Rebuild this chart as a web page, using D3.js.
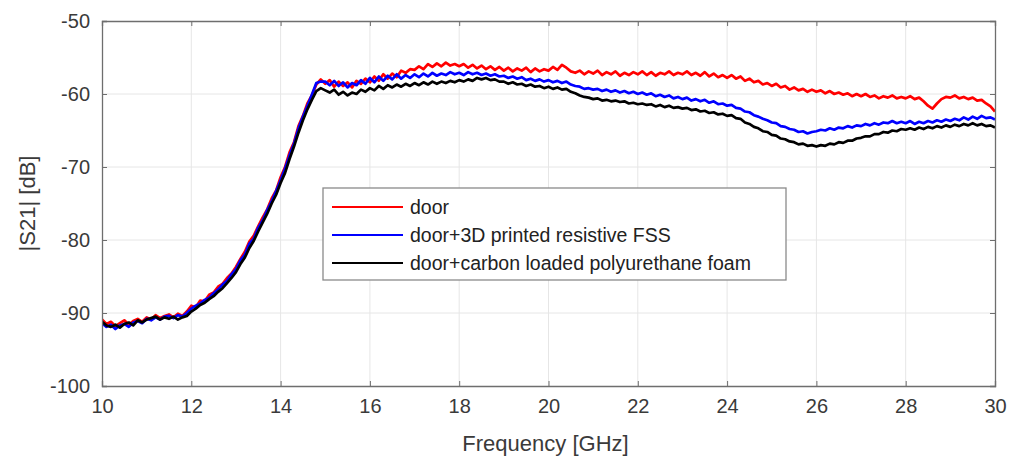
<!DOCTYPE html>
<html>
<head>
<meta charset="utf-8">
<script src="https://cdn.jsdelivr.net/npm/d3@7"></script>
<style>
  html, body { margin: 0; padding: 0; background: #fff; }
  svg { display: block; font-family: "Liberation Sans", Arial, sans-serif; }
</style>
</head>
<body>
<svg id="chart" width="1012" height="458"></svg>
<script>
// ---- data ----
const freqStart = 10, freqEnd = 30, freqStep = 0.1;   // GHz sampling of the measured traces
const xTicks = [10, 12, 14, 16, 18, 20, 22, 24, 26, 28, 30];
const yTicks = [-100, -90, -80, -70, -60, -50];
const seriesNames = ["door", "door+3D printed resistive FSS", "door+carbon loaded polyurethane foam"];
const seriesColors = ["#ff0000", "#0000ff", "#000000"];

const door = [
  -90.9, -91.5, -91.2, -91.8, -91.4, -91.0, -91.6, -91.1, -90.8, -91.2,
  -90.6, -90.9, -90.3, -90.7, -90.4, -90.2, -90.6, -90.1, -90.4, -89.8,
  -89.0, -89.2, -88.3, -88.4, -87.5, -87.2, -86.4, -86.0, -85.2, -84.6,
  -83.7, -82.6, -81.6, -80.2, -79.4, -78.1, -76.9, -75.8, -74.3, -73.2,
  -71.4, -70.0, -68.0, -66.6, -64.4, -63.0, -61.3, -60.2, -58.7, -58.0,
  -58.6, -58.1, -59.0, -58.3, -58.9, -58.4, -59.1, -58.2, -58.6, -57.9,
  -58.4, -57.6, -58.2, -57.3, -57.9, -57.2, -57.7, -56.8, -57.1, -56.6,
  -56.7, -56.2, -56.6, -55.9, -56.3, -55.8, -56.2, -55.7, -56.1, -55.9,
  -56.2, -55.9, -56.4, -56.0, -56.5, -56.1, -56.6, -56.2, -56.7, -56.3,
  -56.8, -56.4, -56.9, -56.5, -56.8, -56.4, -57.0, -56.5, -56.9, -56.6,
  -56.8, -56.3, -56.7, -56.0, -56.4, -56.9, -57.1, -56.8, -57.3, -56.9,
  -57.2, -56.8, -57.4, -57.0, -57.3, -56.9, -57.5, -57.1, -57.4, -57.0,
  -57.3, -56.9, -57.4, -57.0, -57.5, -57.1, -57.3, -56.9, -57.4, -57.1,
  -57.3, -56.9, -57.4, -57.1, -57.5, -57.0, -57.6, -57.2, -57.7, -57.4,
  -57.8, -57.4, -57.9, -57.6, -58.2, -57.9, -58.4, -58.2, -58.7, -58.5,
  -58.9, -58.6, -59.1, -58.9, -59.4, -59.1, -59.5, -59.3, -59.7, -59.4,
  -59.7, -59.5, -59.9, -59.6, -60.0, -59.8, -60.1, -59.9, -60.3, -60.0,
  -60.3, -60.0, -60.4, -60.2, -60.6, -60.3, -60.5, -60.2, -60.6, -60.4,
  -60.6, -60.3, -60.7, -60.5, -61.0, -61.6, -62.0, -61.3, -60.7, -60.4,
  -60.5, -60.2, -60.6, -60.4, -60.7, -60.5, -60.9, -60.8, -61.3, -61.7,
  -62.4
];

const doorFSS = [
  -91.4, -91.9, -91.6, -92.2, -91.7, -91.5, -91.9, -91.3, -91.1, -91.4,
  -90.8, -91.0, -90.6, -90.9, -90.5, -90.4, -90.7, -90.3, -90.5, -90.0,
  -89.4, -89.0, -88.7, -88.2, -87.9, -87.3, -86.8, -86.1, -85.6, -84.7,
  -84.0, -82.8, -82.0, -80.5, -79.8, -78.3, -77.3, -75.9, -74.7, -73.3,
  -71.8, -70.2, -68.4, -66.8, -64.7, -63.1, -61.6, -60.1, -58.5, -58.3,
  -58.3, -58.8, -58.2, -58.9, -58.4, -59.1, -58.5, -58.8, -58.1, -58.6,
  -57.8, -58.4, -57.6, -58.2, -57.5, -58.0, -57.3, -57.9, -57.4, -57.8,
  -57.3, -57.7, -57.2, -57.6, -57.1, -57.5, -57.2, -57.4, -57.0, -57.3,
  -57.1, -57.4, -57.0, -57.3, -57.1, -57.4, -57.2, -57.5, -57.3, -57.6,
  -57.5, -57.8, -57.6, -57.9, -57.7, -58.1, -57.9, -58.2, -58.0, -58.3,
  -58.1, -58.4, -58.2, -58.5, -58.3, -58.7, -58.9, -59.0, -59.3, -59.2,
  -59.4, -59.3, -59.6, -59.4, -59.7, -59.5, -59.8, -59.6, -59.9, -59.7,
  -60.0, -59.8, -60.1, -59.9, -60.3, -60.1, -60.4, -60.2, -60.6, -60.4,
  -60.7, -60.5, -60.9, -60.7, -61.0, -60.8, -61.2, -61.0, -61.4, -61.3,
  -61.6, -61.5, -61.9, -62.0, -62.4, -62.5, -62.9, -63.1, -63.4, -63.6,
  -63.9, -64.0, -64.4, -64.5, -64.8, -64.9, -65.2, -65.1, -65.4, -65.2,
  -65.1, -64.9, -65.0, -64.7, -64.9, -64.6, -64.7, -64.4, -64.6, -64.3,
  -64.4, -64.1, -64.3, -64.0, -64.2, -63.9, -64.0, -63.7, -64.0, -63.8,
  -64.0, -63.7, -64.1, -63.8, -64.0, -63.7, -63.9, -63.6, -63.8, -63.5,
  -63.7, -63.4, -63.6, -63.2, -63.5, -63.1, -63.4, -63.0, -63.3, -63.2,
  -63.5
];

const doorFoam = [
  -91.2, -91.7, -91.9, -91.6, -92.0, -91.5, -91.3, -91.7, -91.0, -91.3,
  -90.9, -90.7, -90.5, -90.9, -90.6, -90.8, -90.5, -90.9, -90.6, -90.4,
  -89.8, -89.4, -88.9, -88.6, -88.1, -87.7, -87.1, -86.6, -85.9, -85.2,
  -84.4, -83.3, -82.4, -81.1, -80.1, -78.8, -77.6, -76.4, -75.0, -73.8,
  -72.2, -70.8, -68.9, -67.2, -65.3, -63.6, -62.1, -60.8, -59.6, -59.2,
  -59.5, -59.8, -59.4, -60.1, -59.7, -60.2, -59.8, -60.0, -59.4, -59.7,
  -59.2, -59.5, -58.9, -59.3, -58.8, -59.1, -58.7, -59.0, -58.6, -58.9,
  -58.5, -58.8, -58.4, -58.7, -58.3, -58.6, -58.3, -58.5, -58.2, -58.4,
  -58.1, -58.3, -58.0, -58.2, -57.8, -58.0, -57.8, -58.1, -58.0, -58.3,
  -58.3, -58.6, -58.4, -58.7, -58.6, -58.9, -58.7, -59.0, -58.9, -59.2,
  -59.0, -59.3, -59.1, -59.4, -59.3, -59.7, -59.9, -60.2, -60.4, -60.5,
  -60.7, -60.6, -60.9, -60.8, -61.0, -60.9, -61.1, -61.0, -61.3, -61.2,
  -61.4, -61.3, -61.5, -61.4, -61.7, -61.5, -61.8, -61.6, -61.9, -61.8,
  -62.0, -61.9, -62.2, -62.1, -62.4, -62.3, -62.6, -62.5, -62.8, -62.7,
  -63.0, -62.9, -63.3, -63.4, -63.9, -64.1, -64.5, -64.7, -65.1, -65.2,
  -65.6, -65.7, -66.1, -66.2, -66.5, -66.6, -66.9, -66.8, -67.1, -67.0,
  -67.2, -67.0, -67.1, -66.8, -66.9, -66.6, -66.7, -66.4, -66.4, -66.1,
  -66.0, -65.8, -65.8, -65.5, -65.5, -65.2, -65.3, -65.0, -65.1, -64.8,
  -64.9, -64.7, -64.9, -64.6, -64.8, -64.5, -64.7, -64.4, -64.6, -64.3,
  -64.5, -64.2, -64.4, -64.1, -64.3, -64.0, -64.3, -64.1, -64.4, -64.3,
  -64.6
];

const seriesValues = [door, doorFSS, doorFoam];
const freqs = d3.range(door.length).map(i => +(freqStart + i * freqStep).toFixed(2));

// ---- layout ----
const svg = d3.select("#chart");
const m = { left: 102, right: 1012 - 995, top: 21, bottom: 458 - 386 };
const W = 1012, H = 458;
const x = d3.scaleLinear().domain([freqStart, freqEnd]).range([m.left, W - m.right]);
const y = d3.scaleLinear().domain([-100, -50]).range([H - m.bottom, m.top]);

const axisColor = "#6e6e6e";
const textColor = "#3a3a3a";

// grid
const grid = svg.append("g");
grid.selectAll(".gx").data(xTicks.slice(1, -1)).join("line")
  .attr("x1", d => x(d)).attr("x2", d => x(d))
  .attr("y1", y(-100)).attr("y2", y(-50))
  .attr("stroke", "#e6e6e6").attr("stroke-width", 1);
grid.selectAll(".gy").data(yTicks.slice(1, -1)).join("line")
  .attr("x1", x(10)).attr("x2", x(30))
  .attr("y1", d => y(d)).attr("y2", d => y(d))
  .attr("stroke", "#e6e6e6").attr("stroke-width", 1);

// lines
const line = d3.line().x(d => x(d[0])).y(d => y(d[1]));
svg.append("clipPath").attr("id", "clip").append("rect")
  .attr("x", x(10)).attr("y", y(-50)).attr("width", x(30) - x(10)).attr("height", y(-100) - y(-50));
const lines = svg.append("g").attr("clip-path", "url(#clip)");
seriesValues.forEach((vals, i) => {
  lines.append("path")
    .datum(vals.map((v, j) => [freqs[j], v]))
    .attr("fill", "none")
    .attr("stroke", seriesColors[i])
    .attr("stroke-width", 2.7)
    .attr("stroke-linejoin", "round")
    .attr("d", line);
});

// axes (MATLAB-like box with inward ticks)
const tickLen = 5;
const fmt = d => String(d);
const xAxisB = d3.axisBottom(x).tickValues(xTicks).tickSize(-tickLen).tickPadding(13).tickFormat(fmt);
const xAxisT = d3.axisTop(x).tickValues(xTicks).tickSize(-tickLen).tickFormat("");
const yAxisL = d3.axisLeft(y).tickValues(yTicks).tickSize(-tickLen).tickPadding(12).tickFormat(fmt);
const yAxisR = d3.axisRight(y).tickValues(yTicks).tickSize(-tickLen).tickFormat("");

function style(g) {
  g.select(".domain").attr("stroke", axisColor).attr("stroke-width", 1.3);
  g.selectAll(".tick line").attr("stroke", axisColor).attr("stroke-width", 1);
  g.selectAll(".tick text").attr("fill", textColor).attr("font-size", 20)
    .attr("font-family", "Liberation Sans, Arial, sans-serif");
}
svg.append("g").attr("transform", `translate(0,${y(-100)})`).call(xAxisB).call(style);
svg.append("g").attr("transform", `translate(0,${y(-50)})`).call(xAxisT).call(style);
svg.append("g").attr("transform", `translate(${x(10)},0)`).call(yAxisL).call(style);
svg.append("g").attr("transform", `translate(${x(30)},0)`).call(yAxisR).call(style);

// axis titles
svg.append("text")
  .attr("x", (x(10) + x(30)) / 2 - 3).attr("y", 451)
  .attr("text-anchor", "middle").attr("fill", textColor).attr("font-size", 22)
  .text("Frequency [GHz]");
svg.append("text")
  .attr("transform", `translate(35,${(y(-50) + y(-100)) / 2}) rotate(-90)`)
  .attr("text-anchor", "middle").attr("fill", textColor).attr("font-size", 22)
  .text("|S21| [dB]");

// legend
const lg = svg.append("g").attr("transform", "translate(323,188)");
lg.append("rect").attr("width", 463).attr("height", 92)
  .attr("fill", "#fff").attr("stroke", "#8a8a8a").attr("stroke-width", 1.3);
seriesNames.forEach((name, i) => {
  const yy = 19 + i * 28;
  lg.append("line").attr("x1", 9).attr("x2", 80).attr("y1", yy).attr("y2", yy)
    .attr("stroke", seriesColors[i]).attr("stroke-width", 2.2);
  lg.append("text").attr("x", 87).attr("y", yy + 7)
    .attr("fill", "#222").attr("font-size", 19.5).text(name);
});
</script>
</body>
</html>
